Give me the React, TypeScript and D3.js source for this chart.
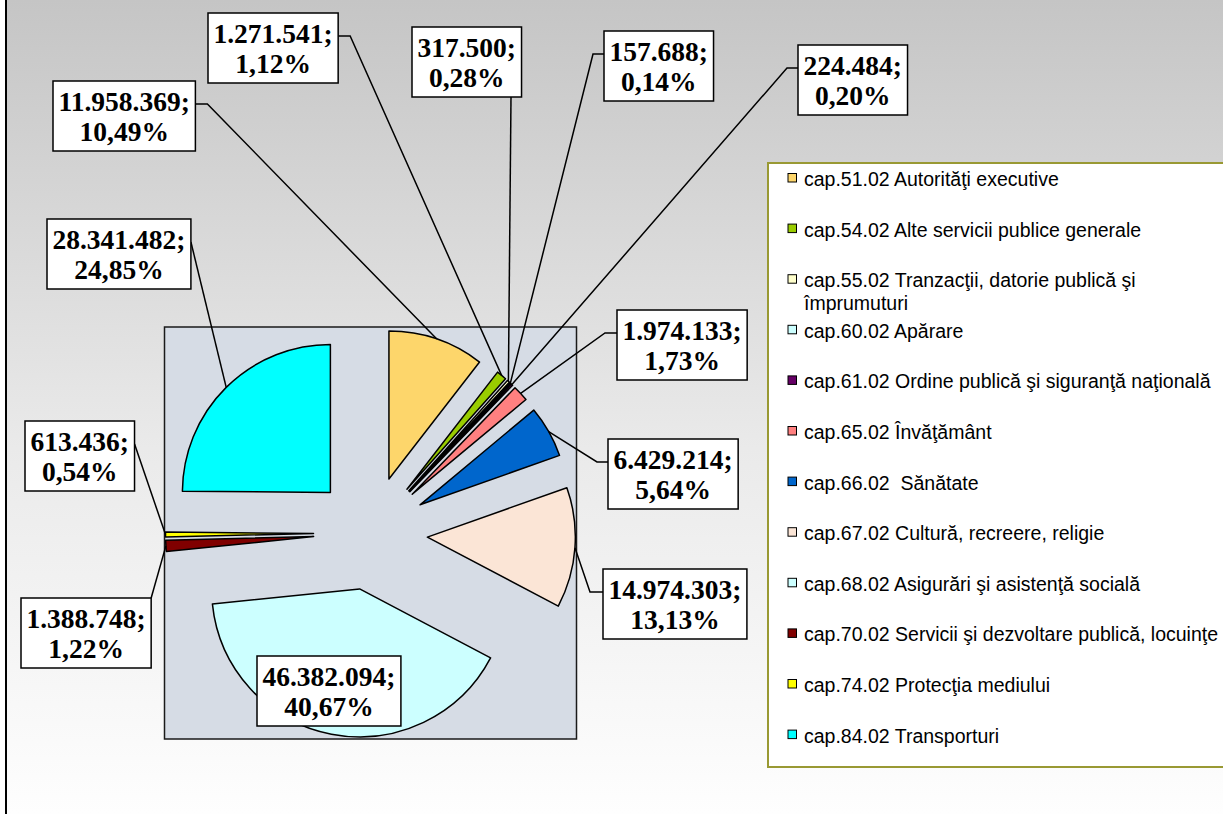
import React from 'react';
import * as d3 from 'd3';

// ---- data ----
const categories: string[] = [
  'cap.51.02 Autorităţi executive',
  'cap.54.02 Alte servicii publice generale',
  'cap.55.02 Tranzacţii, datorie publică şi\nîmprumuturi',
  'cap.60.02 Apărare',
  'cap.61.02 Ordine publică şi siguranţă naţională',
  'cap.65.02 Învăţământ',
  'cap.66.02  Sănătate',
  'cap.67.02 Cultură, recreere, religie',
  'cap.68.02 Asigurări şi asistenţă socială',
  'cap.70.02 Servicii şi dezvoltare publică, locuinţe',
  'cap.74.02 Protecţia mediului',
  'cap.84.02 Transporturi',
];
const values: number[] = [
  11958369, 1271541, 317500, 157688, 224484, 1974133, 6429214, 14974303, 46382094, 1388748, 613436,
  28341482,
];
const colors: string[] = [
  '#FDD66B', '#99CC00', '#FFFFCC', '#CCFFFF', '#660066', '#FF8080', '#0066CC', '#FBE5D6', '#CCFFFF',
  '#800000', '#FFFF00', '#00FFFF',
];

// label box placement (layout only): top-left corner and how the leader attaches
type Attach = { side: 'left' | 'right' | 'bottom' | 'topright' | 'none'; stub?: number; dx?: number };
const labelPos: { x: number; y: number; attach: Attach }[] = [
  { x: 53, y: 81, attach: { side: 'right', stub: 12 } },
  { x: 208, y: 13, attach: { side: 'right', stub: 12 } },
  { x: 412, y: 27, attach: { side: 'bottom', dx: 99 } },
  { x: 604, y: 31, attach: { side: 'left', stub: 11 } },
  { x: 798, y: 45, attach: { side: 'left', stub: 11 } },
  { x: 617, y: 310, attach: { side: 'left', stub: 12 } },
  { x: 608, y: 439, attach: { side: 'left', stub: 11 } },
  { x: 603, y: 569, attach: { side: 'left', stub: 13 } },
  { x: 257, y: 656, attach: { side: 'none' } },
  { x: 21, y: 598, attach: { side: 'topright' } },
  { x: 25, y: 421, attach: { side: 'right', stub: 0 } },
  { x: 47, y: 219, attach: { side: 'right', stub: 0 } },
];

const W = 1223;
const H = 814;
const CX = 370.5;
const CY = 533;
const R = 148;
const EXPLODE = 57;
const LABEL_FONT = 27.5;
const BOX_PAD = 11;
const BOX_H = 70;

function fmtThousands(v: number): string {
  return d3.format(',')(v).replace(/,/g, '.');
}
function fmtPct(p: number): string {
  return d3.format('.2f')(p).replace('.', ',') + '%';
}

let measureCtx: CanvasRenderingContext2D | null = null;
function measure(text: string, font: string): number {
  if (!measureCtx) measureCtx = document.createElement('canvas').getContext('2d');
  if (!measureCtx) return text.length * 13;
  measureCtx.font = font;
  return measureCtx.measureText(text).width;
}

export default function App() {
  const total = d3.sum(values);
  const pie = d3
    .pie<number>()
    .sort(null)
    .value((d) => d)
    .startAngle(0)
    .endAngle(2 * Math.PI);
  const arcs = pie(values);
  const arcGen = d3.arc<d3.PieArcDatum<number>>().innerRadius(0).outerRadius(R);

  const half = R + EXPLODE + 1;
  const labelFont = `bold ${LABEL_FONT}px "Liberation Serif", "Times New Roman", serif`;

  const legendX = 768;
  const legendY = 163;
  const legendStep = 50.6;
  const firstBaseline = 186;

  const boxInfo = values.map((v) => {
    const lines = [fmtThousands(v) + ';', fmtPct((v / total) * 100)];
    const bw = Math.max(...lines.map((t) => measure(t, labelFont))) + BOX_PAD;
    return { lines, bw };
  });

  return (
    <svg
      width={W}
      height={H}
      style={{ position: 'absolute', left: 0, top: 0, display: 'block' }}
      xmlns="http://www.w3.org/2000/svg"
    >
      <defs>
        <linearGradient id="bg" gradientUnits="userSpaceOnUse" x1="0" y1="0" x2="0" y2={H}>
          <stop offset="0" stopColor="#C5C5C5" />
          <stop offset="0.55" stopColor="#EAEAEA" />
          <stop offset="1" stopColor="#FEFEFE" />
        </linearGradient>
      </defs>
      {/* chart area */}
      <rect x={6} y={-10} width={W + 20} height={H + 30} fill="url(#bg)" stroke="#000" strokeWidth={2} />

      {/* plot area */}
      <rect
        x={CX - half}
        y={CY - half}
        width={half * 2}
        height={half * 2}
        fill="#D6DCE5"
        stroke="#1a1a1a"
        strokeWidth={1.5}
      />

      {/* slices */}
      {arcs.map((a, i) => {
        const mid = (a.startAngle + a.endAngle) / 2;
        const ox = CX + EXPLODE * Math.sin(mid);
        const oy = CY - EXPLODE * Math.cos(mid);
        return (
          <path
            key={i}
            d={arcGen(a) || ''}
            transform={`translate(${ox},${oy})`}
            fill={colors[i]}
            stroke="#000"
            strokeWidth={1.5}
            strokeLinejoin="round"
          />
        );
      })}

      {/* leader lines */}
      {arcs.map((a, i) => {
        const lp = labelPos[i];
        if (lp.attach.side === 'none') return null;
        const mid = (a.startAngle + a.endAngle) / 2;
        const tx = CX + (EXPLODE + R) * Math.sin(mid);
        const ty = CY - (EXPLODE + R) * Math.cos(mid);
        const bw = boxInfo[i].bw;
        const pts: [number, number][] = [];
        const dy = 23;
        if (lp.attach.side === 'right') {
          pts.push([lp.x + bw, lp.y + dy]);
          if (lp.attach.stub) pts.push([lp.x + bw + lp.attach.stub, lp.y + dy]);
        } else if (lp.attach.side === 'left') {
          pts.push([lp.x, lp.y + dy]);
          if (lp.attach.stub) pts.push([lp.x - lp.attach.stub, lp.y + dy]);
        } else if (lp.attach.side === 'bottom') {
          pts.push([lp.x + (lp.attach.dx || bw / 2), lp.y + BOX_H]);
        } else if (lp.attach.side === 'topright') {
          pts.push([lp.x + bw, lp.y]);
        }
        pts.push([tx, ty]);
        return (
          <path
            key={'l' + i}
            d={d3.line()(pts) || ''}
            fill="none"
            stroke="#000"
            strokeWidth={1.5}
          />
        );
      })}

      {/* label boxes */}
      {arcs.map((a, i) => {
        const lp = labelPos[i];
        const { lines, bw } = boxInfo[i];
        return (
          <g key={'b' + i}>
            <rect x={lp.x} y={lp.y} width={bw} height={BOX_H} fill="#fff" stroke="#000" strokeWidth={1.5} />
            {lines.map((t, j) => (
              <text
                key={j}
                x={lp.x + bw / 2}
                y={lp.y + 30 + j * 30}
                textAnchor="middle"
                fontFamily='"Liberation Serif", "Times New Roman", serif'
                fontWeight="bold"
                fontSize={LABEL_FONT}
                fill="#000"
              >
                {t}
              </text>
            ))}
          </g>
        );
      })}

      {/* legend */}
      <rect
        x={legendX}
        y={legendY}
        width={W - legendX + 20}
        height={767 - legendY}
        fill="#FFFFFF"
        stroke="#999933"
        strokeWidth={2}
      />
      {categories.map((c, i) => {
        const by = firstBaseline + i * legendStep;
        const parts = c.split('\n');
        return (
          <g key={'lg' + i}>
            <rect x={788} y={by - 12.5} width={8.5} height={8.5} fill={colors[i]} stroke="#000" strokeWidth={1} />
            {parts.map((p, j) => (
              <text
                key={j}
                x={804}
                y={by + j * 23}
                fontFamily='"Liberation Sans", Arial, sans-serif'
                fontSize={19.5}
                fill="#000"
                style={{ whiteSpace: 'pre' }}
              >
                {p}
              </text>
            ))}
          </g>
        );
      })}
    </svg>
  );
}
